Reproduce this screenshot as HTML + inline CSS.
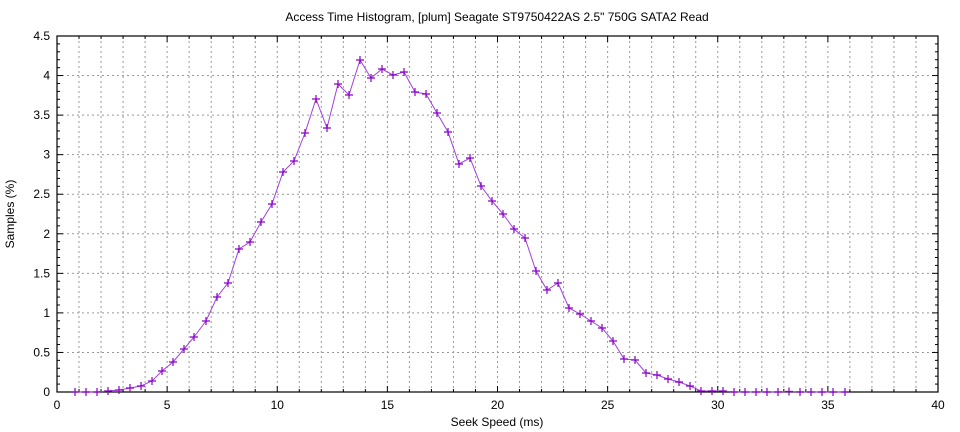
<!DOCTYPE html>
<html><head><meta charset="utf-8"><style>
body{margin:0;background:#fff;}
svg{display:block;font-family:"Liberation Sans",sans-serif;}
</style></head><body>
<svg id="s" width="960" height="432" xmlns="http://www.w3.org/2000/svg"></svg>
<script>
const s=document.getElementById('s');
let h='';
const L=57,R=938,T=36,B=392;
const X=v=>L+(R-L)*v/40, Y=v=>B-(B-T)*v/4.5;
// grid
for(let i=1;i<40;i++){h+=`<line x1="${X(i)}" y1="${T}" x2="${X(i)}" y2="${B}" stroke="#999" stroke-dasharray="2,3" stroke-width="1"/>`;}
for(let j=1;j<9;j++){const y=Y(j*0.5);h+=`<line x1="${L}" y1="${y}" x2="${R}" y2="${y}" stroke="#999" stroke-dasharray="2,3" stroke-width="1"/>`;}
// ticks
for(let i=0;i<=40;i++){const len=i%5==0?6:3;h+=`<line x1="${X(i)}" y1="${B}" x2="${X(i)}" y2="${B-len}" stroke="#000"/><line x1="${X(i)}" y1="${T}" x2="${X(i)}" y2="${T+len}" stroke="#000"/>`;
 if(i%5==0)h+=`<text x="${X(i)}" y="${B+17}" font-size="12" text-anchor="middle">${i}</text>`;}
for(let j=0;j<=45;j++){const y=Y(j/10),len=j%5==0?6:3;h+=`<line x1="${L}" y1="${y}" x2="${L+len}" y2="${y}" stroke="#000"/><line x1="${R}" y1="${y}" x2="${R-len}" y2="${y}" stroke="#000"/>`;
 if(j%5==0)h+=`<text x="${L-7}" y="${y+4}" font-size="12" text-anchor="end">${j/10}</text>`;}
h+=`<rect x="${L}" y="${T}" width="${R-L}" height="${B-T}" fill="none" stroke="#000" stroke-width="1.2"/>`;
// data pixels
const pts=[[75,392],[86,392],[97,392],[108,391],[119,390],[130,388],[141,386],[152,381],[162,371],[173,362],[184,349],[194,337],[206,321],[217,297],[228,283],[239,249],[250,242],[261,222],[272,204],[283,172],[294,161],[305,133],[316,99],[327,128],[338,84],[349,95],[360,60],[371,78],[382,69],[393,75],[404,72],[415,92],[426,94],[437,113],[448,132],[459,164],[470,158],[481,186],[492,201],[503,214],[514,229],[525,238],[536,271],[547,290],[558,283],[569,308],[580,314],[591,321],[602,328],[613,341],[624,359],[635,360],[646,373],[657,375],[668,379],[679,382],[690,386],[701,391],[712,391],[723,391],[734,392],[745,392],[756,392],[767,392],[778,392],[789,391.5],[800,392],[811,392],[822,392],[833,392],[845,392]];
h+=`<polyline points="${pts.map(p=>p.join(',')).join(' ')}" fill="none" stroke="#a040e0" stroke-width="1"/>`;
for(const [x,y] of pts){h+=`<path d="M${x-4},${y}h8M${x},${y-4}v8" stroke="#8a00c8" stroke-width="1.2"/>`;}
h+=`<text x="497" y="21" font-size="12" text-anchor="middle">Access Time Histogram, [plum] Seagate ST9750422AS 2.5" 750G SATA2 Read</text>`;
h+=`<text x="497" y="426" font-size="12" text-anchor="middle">Seek Speed (ms)</text>`;
h+=`<text transform="translate(14,214) rotate(-90)" font-size="12" text-anchor="middle">Samples (%)</text>`;
s.innerHTML=h;
</script>
</body></html>
